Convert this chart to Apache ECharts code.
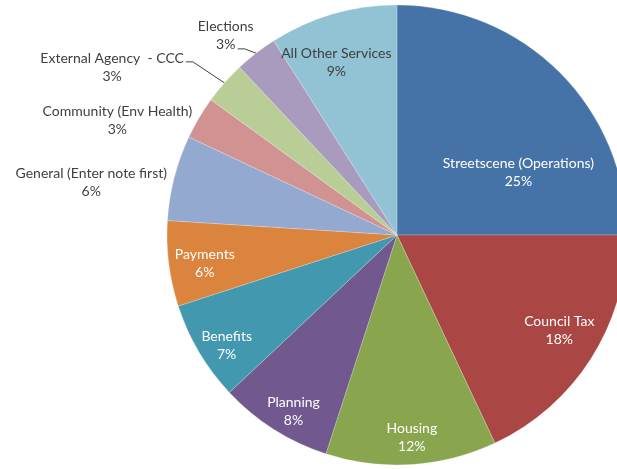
<!DOCTYPE html>
<html>
<head>
<meta charset="utf-8">
<script src="https://cdn.jsdelivr.net/npm/echarts@6/dist/echarts.min.js"></script>
<style>
  html, body { margin: 0; padding: 0; background: #fff; }
  #chart { width: 617px; height: 469px; }
</style>
</head>
<body>
<div id="chart"></div>
<script>
// Enquiries by service area (share of total, %)
const services = [
  'Streetscene (Operations)', 'Council Tax', 'Housing', 'Planning', 'Benefits',
  'Payments', 'General (Enter note first)', 'Community (Env Health)',
  'External Agency  - CCC', 'Elections', 'All Other Services'
];
const shares = [25, 18, 12, 8, 7, 6, 6, 3, 3, 3, 9];

// Slice colours, clockwise from 12 o'clock
const palette = [
  '#4572A7', '#AA4643', '#89A54E', '#71588F', '#4198AF', '#DB843D',
  '#93A9CF', '#D19392', '#B9CD96', '#A99BBD', '#92C3D4'
];

// Label placement relative to each slice: radius factor and angular nudge (deg).
// leader: 'name' attaches the line after the first text line, 'value' after the second.
const labelSpots = [
  { r: 0.594, da: 17.7, color: '#fff' },
  { r: 0.819, da: -1.9, color: '#fff' },
  { r: 0.881, da: -0.6, color: '#fff' },
  { r: 0.889, da: -2.0, color: '#fff' },
  { r: 0.883, da: -2.4, color: '#fff' },
  { r: 0.845, da: -1.3, color: '#fff' },
  { r: 1.349, da: -4.6, color: '#404040' },
  { r: 1.314, da: -8.3, color: '#404040' },
  { r: 1.436, da: -11.0, color: '#404040', leader: 'name' },
  { r: 1.142, da: -2.9, color: '#404040', leader: 'value' }, 
  { r: 0.794, da: -3.2, color: '#404040' }
];

const CX = 397, CY = 235, R = 230;
const total = shares.reduce((a, b) => a + b, 0);

function midAngle(i) {
  let before = 0;
  for (let k = 0; k < i; k++) before += shares[k];
  return ((before + shares[i] / 2) / total) * 360;
}
function polar(angleDeg, rad) {
  const a = angleDeg * Math.PI / 180;
  return [CX + rad * Math.sin(a), CY - rad * Math.cos(a)];
}

const chart = echarts.init(document.getElementById('chart'), null, { renderer: 'canvas' });

chart.setOption({
  animation: false,
  backgroundColor: '#ffffff',
  series: [{
    type: 'pie',
    center: [CX, CY],
    radius: [0, R],
    startAngle: 90,
    clockwise: true,
    avoidLabelOverlap: false,
    itemStyle: { borderColor: 'rgba(255,255,255,0.35)', borderWidth: 0.6 },
    label: {
      show: true,
      position: 'outside',
      formatter: p => p.name + '\n' + Math.round(p.percent) + '%',
      fontFamily: 'Lato, "Open Sans", sans-serif',
      fontSize: 14,
      lineHeight: 18,
      align: 'center'
    },
    labelLine: { show: false, lineStyle: { color: '#404040', width: 1 } },
    labelLayout: function (params) {
      const i = params.dataIndex;
      const s = labelSpots[i];
      const pos = polar(midAngle(i) + s.da, R * s.r);
      const out = { x: pos[0], y: pos[1], align: 'center', verticalAlign: 'middle' };
      if (s.leader) {
        let sx, sy;
        if (s.leader === 'name') {
          sx = pos[0] + params.labelRect.width / 2 + 2;
          sy = pos[1] - 6;
        } else {
          sx = pos[0] + 12;
          sy = pos[1] + 13;
        }
        out.labelLinePoints = [[sx, sy], [sx + 7, sy], polar(midAngle(i), R)];
      }
      return out;
    },
    data: services.map((name, i) => ({
      name: name,
      value: shares[i],
      itemStyle: { color: palette[i] },
      label: { color: labelSpots[i].color },
      labelLine: { show: !!labelSpots[i].leader }
    }))
  }]
});
</script>
</body>
</html>
